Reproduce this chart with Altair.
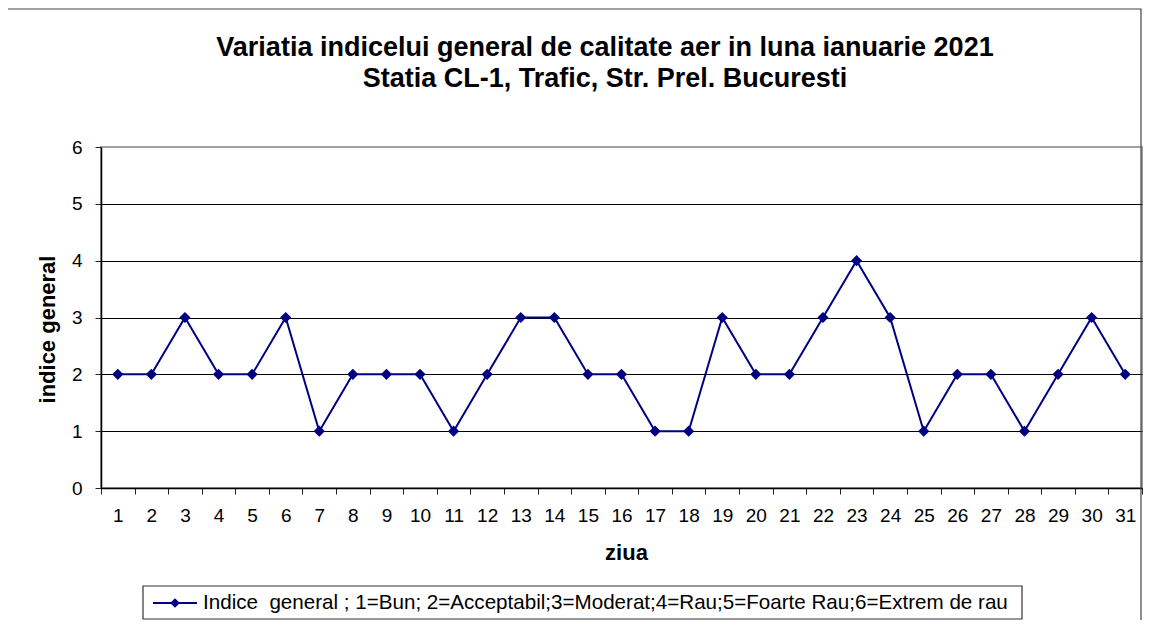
import altair as alt
import pandas as pd

days = list(range(1, 32))
values = [2, 2, 3, 2, 2, 3, 1, 2, 2, 2,
          1, 2, 3, 3, 2, 2, 1, 1, 3, 2,
          2, 3, 4, 3, 1, 2, 2, 1, 2, 3, 2]
y_ticks = [0, 1, 2, 3, 4, 5, 6]
title_lines = ["Variatia indicelui general de calitate aer in luna ianuarie 2021",
               "Statia CL-1, Trafic, Str. Prel. Bucuresti"]
x_title = "ziua"
y_title = "indice general"
legend_label = "Indice \u00a0general ; 1=Bun; 2=Acceptabil;3=Moderat;4=Rau;5=Foarte Rau;6=Extrem de rau"

df = pd.DataFrame({"ziua": days, "indice": values})
one = pd.DataFrame({"t": [legend_label]})
ttl = pd.DataFrame({"t": [title_lines]})

FONT = "Liberation Sans"
NAVY = "#000080"
W, H = 1041, 341

x_enc = alt.X(
    "ziua:O",
    scale=alt.Scale(type="band", paddingInner=0, paddingOuter=0),
    bandPosition=0.5,
    axis=alt.Axis(
        title=x_title, labelAngle=0, tickBand="extent", grid=False,
        tickSize=6, labelPadding=12, domainColor="black", domainWidth=1.5,
        tickColor="#222", titleX=525, titleY=71, titleBaseline="alphabetic",
        titleAlign="center",
    ),
)
y_enc = alt.Y(
    "indice:Q",
    scale=alt.Scale(domain=[0, 6], nice=False, zero=True),
    axis=alt.Axis(
        title=y_title, values=y_ticks, grid=True,
        gridColor=alt.condition("datum.value == 6", alt.value("#a0a0a0"), alt.value("black")),
        gridWidth=1, tickSize=6, labelPadding=13, domainColor="black", domainWidth=1.5,
        tickColor="#222", titleX=-54, titleY=182, titleAngle=270, titleBaseline="middle",
        titleAlign="center",
    ),
)

base = alt.Chart(df)
line = base.mark_line(color=NAVY, strokeWidth=2).encode(x=x_enc, y=y_enc)
pts = base.mark_point(shape="diamond", filled=True, size=125, color=NAVY, opacity=1).encode(
    x=x_enc, y=y_enc)

frame = alt.Chart(one).mark_rect(filled=False, stroke="#444", strokeWidth=1.2).encode(
    x=alt.value(-95), x2=alt.value(1040), y=alt.value(-138), y2=alt.value(620))

title = alt.Chart(ttl).mark_text(
    font=FONT, fontSize=27, fontWeight="bold", align="center", baseline="alphabetic",
    lineHeight=31, color="black").encode(
    x=alt.value(504), y=alt.value(-91), text="t")

leg_box = alt.Chart(one).mark_rect(fill="white", stroke="#333", strokeWidth=1.2).encode(
    x=alt.value(42), x2=alt.value(921), y=alt.value(439), y2=alt.value(472))
leg_rule = alt.Chart(one).mark_rule(color=NAVY, strokeWidth=2).encode(
    x=alt.value(52), x2=alt.value(96), y=alt.value(456))
leg_pt = alt.Chart(one).mark_point(shape="diamond", filled=True, size=95, color=NAVY, opacity=1).encode(
    x=alt.value(74), y=alt.value(456))
leg_txt = alt.Chart(one).mark_text(
    font=FONT, fontSize=20.6, align="left", baseline="middle", color="black").encode(
    x=alt.value(102), y=alt.value(456), text="t")

chart = alt.layer(frame, line, pts, title, leg_box, leg_rule, leg_pt, leg_txt).properties(
    width=W, height=H,
    background="white",
    autosize=alt.AutoSizeParams(type="none"),
    padding={"left": 93, "top": 139, "right": 8, "bottom": 132},
).configure_view(
    stroke="#a0a0a0", strokeWidth=2
).configure_axis(
    labelFont=FONT, labelFontSize=19, labelColor="black",
    titleFont=FONT, titleFontSize=22, titleFontWeight="bold", titleColor="black",
)

chart.save("out.html", embed_options={"renderer": "svg", "actions": False})
